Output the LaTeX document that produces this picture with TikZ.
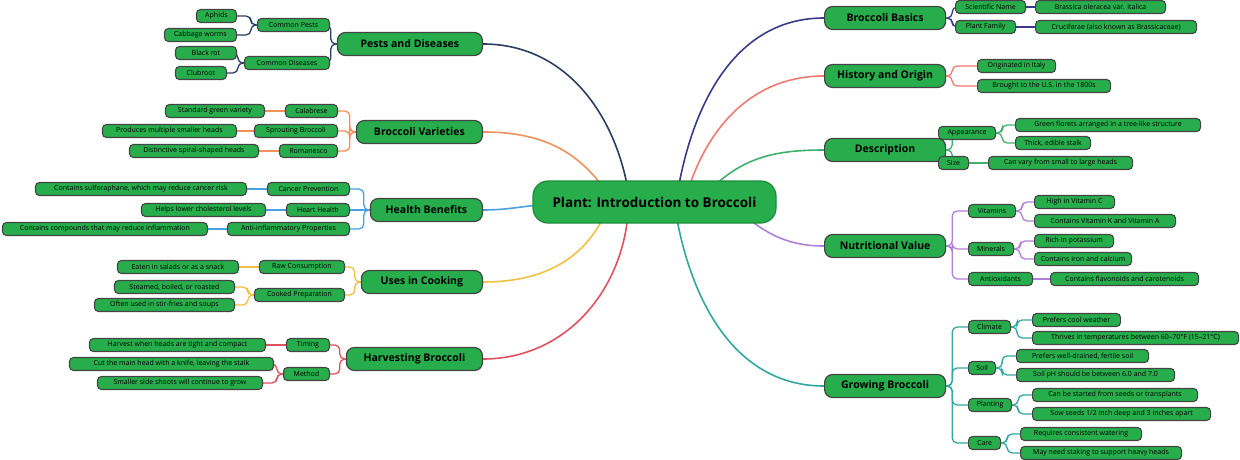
\documentclass[tikz,border=0pt]{standalone}
\usepackage{fontspec}
\setmainfont{Open Sans}
\usetikzlibrary{backgrounds}
\definecolor{nodegreen}{HTML}{27AD4B}
\definecolor{edgegray}{HTML}{444444}
\definecolor{cBasics}{HTML}{3A3A8A}
\definecolor{cHist}{HTML}{F07A70}
\definecolor{cDesc}{HTML}{40B070}
\definecolor{cNutr}{HTML}{B080D8}
\definecolor{cGrow}{HTML}{30A8A0}
\definecolor{cPest}{HTML}{2A3F5F}
\definecolor{cVar}{HTML}{F0905A}
\definecolor{cHealth}{HTML}{4AA0E0}
\definecolor{cCook}{HTML}{F0C040}
\definecolor{cHarv}{HTML}{E05060}
\tikzset{
  leaf/.style={fill=nodegreen, draw=edgegray, line width=1.1pt, rounded corners=4pt, minimum height=13pt, inner sep=1pt, font=\fontsize{7}{8}\selectfont},
  mainn/.style={fill=nodegreen, draw=edgegray, line width=1.2pt, rounded corners=8pt, minimum height=23pt, inner sep=2pt, font=\fontsize{10.5}{12}\selectfont\bfseries},
  rootn/.style={fill=nodegreen, draw=nodegreen!80!black, line width=1.2pt, rounded corners=15pt, minimum height=42pt, minimum width=243pt, font=\fontsize{13.5}{15}\selectfont\bfseries},
  trunk/.style={line width=1.6pt},
  twig/.style={line width=1.3pt, rounded corners=5pt},
  straight/.style={line width=1.3pt}
}
\newcommand{\RN}[6][leaf]{\node[#1, anchor=west, minimum width={#4-#3}] (#2) at (#3,-#5) {#6};}
\newcommand{\LN}[6][leaf]{\node[#1, anchor=east, minimum width={#4-#3}] (#2) at (#4,-#5) {#6};}
\newcommand{\RL}[3]{\draw[twig,#1] (#2.east) -- ++(6,0) |- (#3.west);}
\newcommand{\LL}[3]{\draw[twig,#1] (#2.west) -- ++(-6,0) |- (#3.east);}
\newcommand{\RS}[3]{\draw[straight,#1] (#2.east) -- (#3.west);}
\newcommand{\LS}[3]{\draw[straight,#1] (#2.west) -- (#3.east);}
\begin{document}
\begin{tikzpicture}[x=1pt,y=1pt]
\useasboundingbox (0,0) rectangle (1240,-460);
\node[rootn] (root) at (654.5,-202) {Plant: Introduction to Broccoli};
% right mains
\RN[mainn]{basics}{824}{945}{18}{Broccoli Basics}
\RN[mainn]{hist}{824}{945}{76}{History and Origin}
\RN[mainn]{desc}{824}{945}{150}{Description}
\RN[mainn]{nutr}{824}{945}{246}{Nutritional Value}
\RN[mainn]{grow}{824}{945}{386}{Growing Broccoli}
% left mains
\LN[mainn]{pest}{338}{483}{44}{Pests and Diseases}
\LN[mainn]{var}{357}{483}{132}{Broccoli Varieties}
\LN[mainn]{health}{371}{483}{210}{Health Benefits}
\LN[mainn]{cook}{362}{483}{282}{Uses in Cooking}
\LN[mainn]{harv}{347}{483}{359}{Harvesting Broccoli}
% Basics
\RN{sci}{955}{1025}{7}{Scientific Name}
\RN{sci1}{1035}{1165}{7}{Brassica oleracea var. italica}
\RN{fam}{955}{1015}{27}{Plant Family}
\RN{fam1}{1035}{1196}{27}{Cruciferae (also known as Brassicaceae)}
% History
\RN{h1}{977}{1055}{66}{Originated in Italy}
\RN{h2}{977}{1110}{86}{Brought to the U.S. in the 1800s}
% Description
\RN{app}{938}{995}{133}{Appearance}
\RN{app1}{1015}{1200}{125}{Green florets arranged in a tree-like structure}
\RN{app2}{1015}{1090}{143}{Thick, edible stalk}
\RN{size}{938}{968}{163}{Size}
\RN{size1}{988}{1132}{163}{Can vary from small to large heads}
% Nutrition
\RN{vit}{968}{1015}{211}{Vitamins}
\RN{vit1}{1034}{1114}{202}{High in Vitamin C}
\RN{vit2}{1034}{1175}{221}{Contains Vitamin K and Vitamin A}
\RN{min}{968}{1013}{249}{Minerals}
\RN{min1}{1034}{1113}{241}{Rich in potassium}
\RN{min2}{1034}{1131}{259}{Contains iron and calcium}
\RN{ant}{968}{1032}{279}{Antioxidants}
\RN{ant1}{1050}{1198}{279}{Contains flavonoids and carotenoids}
% Growing
\RN{cli}{968}{1010}{327}{Climate}
\RN{cli1}{1032}{1120}{320}{Prefers cool weather}
\RN{cli2}{1032}{1238}{338}{Thrives in temperatures between 60–70°F (15–21°C)}
\RN{soil}{968}{995}{368}{Soil}
\RN{soil1}{1016}{1148}{356}{Prefers well-drained, fertile soil}
\RN{soil2}{1016}{1174}{375}{Soil pH should be between 6.0 and 7.0}
\RN{pl}{968}{1011}{405}{Planting}
\RN{pl1}{1032}{1197}{395}{Can be started from seeds or transplants}
\RN{pl2}{1032}{1210}{414}{Sow seeds 1/2 inch deep and 3 inches apart}
\RN{care}{968}{1000}{443}{Care}
\RN{care1}{1020}{1141}{434}{Requires consistent watering}
\RN{care2}{1020}{1181}{453}{May need staking to support heavy heads}
% Pests
\LN{cp}{258}{330}{25}{Common Pests}
\LN{cp1}{197}{237}{16}{Aphids}
\LN{cp2}{165}{237}{35}{Cabbage worms}
\LN{cd}{245}{330}{63}{Common Diseases}
\LN{cd1}{176}{237}{53}{Black rot}
\LN{cd2}{176}{227}{73}{Clubroot}
% Varieties
\LN{cal}{286}{338}{111}{Calabrese}
\LN{cal1}{166}{265}{111}{Standard green variety}
\LN{spr}{255}{338}{131}{Sprouting Broccoli}
\LN{spr1}{103}{237}{131}{Produces multiple smaller heads}
\LN{rom}{280}{338}{151}{Romanesco}
\LN{rom1}{130}{259}{151}{Distinctive spiral-shaped heads}
% Health
\LN{can}{268}{350}{189}{Cancer Prevention}
\LN{can1}{36}{247}{189}{Contains sulforaphane, which may reduce cancer risk}
\LN{hea}{287}{350}{210}{Heart Health}
\LN{hea1}{142}{266}{210}{Helps lower cholesterol levels}
\LN{anti}{228}{350}{229}{Anti-inflammatory Properties}
\LN{anti1}{3}{208}{229}{Contains compounds that may reduce inflammation}
% Cooking
\LN{raw}{260}{345}{267}{Raw Consumption}
\LN{raw1}{118}{239}{267}{Eaten in salads or as a snack}
\LN{ckd}{255}{345}{295}{Cooked Preparation}
\LN{ckd1}{115}{235}{287}{Steamed, boiled, or roasted}
\LN{ckd2}{95}{235}{305}{Often used in stir-fries and soups}
% Harvesting
\LN{tim}{287}{330}{345}{Timing}
\LN{tim1}{90}{266}{345}{Harvest when heads are tight and compact}
\LN{met}{284}{330}{374}{Method}
\LN{met1}{70}{274}{364}{Cut the main head with a knife, leaving the stalk}
\LN{met2}{98}{263}{383}{Smaller side shoots will continue to grow}
\begin{scope}[on background layer]
\draw[trunk,cBasics] (678,-190) to[out=80,in=180] (basics.west);
\draw[trunk,cHist] (688,-190) to[out=72,in=180] (hist.west);
\draw[trunk,cDesc] (710,-190) to[out=45,in=180] (desc.west);
\draw[trunk,cNutr] (740,-212) to[out=-40,in=180] (nutr.west);
\draw[trunk,cGrow] (676,-214) to[out=-80,in=180] (grow.west);
\draw[trunk,cPest] (628,-190) to[out=100,in=0] (pest.east);
\draw[trunk,cVar] (605,-190) to[out=125,in=0] (var.east);
\draw[trunk,cHealth] (560,-204) to[out=180,in=0] (health.east);
\draw[trunk,cCook] (605,-214) to[out=-115,in=0] (cook.east);
\draw[trunk,cHarv] (628,-214) to[out=-95,in=0] (harv.east);
\RL{cBasics}{basics}{sci}\RL{cBasics}{basics}{fam}
\RS{cBasics}{sci}{sci1}\RS{cBasics}{fam}{fam1}
\RL{cHist}{hist}{h1}\RL{cHist}{hist}{h2}
\RL{cDesc}{desc}{app}\RL{cDesc}{desc}{size}
\RL{cDesc}{app}{app1}\RL{cDesc}{app}{app2}\RS{cDesc}{size}{size1}
\RL{cNutr}{nutr}{vit}\RL{cNutr}{nutr}{min}\RL{cNutr}{nutr}{ant}
\RL{cNutr}{vit}{vit1}\RL{cNutr}{vit}{vit2}
\RL{cNutr}{min}{min1}\RL{cNutr}{min}{min2}\RS{cNutr}{ant}{ant1}
\RL{cGrow}{grow}{cli}\RL{cGrow}{grow}{soil}\RL{cGrow}{grow}{pl}\RL{cGrow}{grow}{care}
\RL{cGrow}{cli}{cli1}\RL{cGrow}{cli}{cli2}
\RL{cGrow}{soil}{soil1}\RL{cGrow}{soil}{soil2}
\RL{cGrow}{pl}{pl1}\RL{cGrow}{pl}{pl2}
\RL{cGrow}{care}{care1}\RL{cGrow}{care}{care2}
\LL{cPest}{pest}{cp}\LL{cPest}{pest}{cd}
\LL{cPest}{cp}{cp1}\LL{cPest}{cp}{cp2}
\LL{cPest}{cd}{cd1}\LL{cPest}{cd}{cd2}
\LL{cVar}{var}{cal}\LL{cVar}{var}{spr}\LL{cVar}{var}{rom}
\LS{cVar}{cal}{cal1}\LS{cVar}{spr}{spr1}\LS{cVar}{rom}{rom1}
\LL{cHealth}{health}{can}\LS{cHealth}{health}{hea}\LL{cHealth}{health}{anti}
\LS{cHealth}{can}{can1}\LS{cHealth}{hea}{hea1}\LS{cHealth}{anti}{anti1}
\LL{cCook}{cook}{raw}\LL{cCook}{cook}{ckd}
\LS{cCook}{raw}{raw1}\LL{cCook}{ckd}{ckd1}\LL{cCook}{ckd}{ckd2}
\LL{cHarv}{harv}{tim}\LL{cHarv}{harv}{met}
\LS{cHarv}{tim}{tim1}\LL{cHarv}{met}{met1}\LL{cHarv}{met}{met2}
\end{scope}
\end{tikzpicture}
\end{document}
